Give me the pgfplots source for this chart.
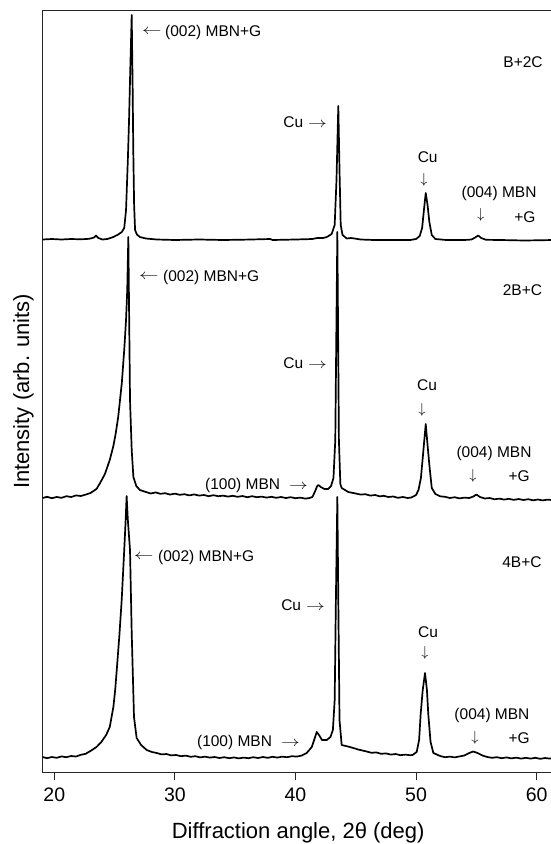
\documentclass[border=0pt]{standalone}
\usepackage{pgfplots}
\pgfplotsset{compat=1.18}
\usepackage{fontspec}
\setmainfont{Liberation Sans}
\newcommand{\la}{\scalebox{1.35}[1]{$\leftarrow$}}
\newcommand{\ra}{\scalebox{1.3}[1]{$\rightarrow$}}

\pgfplotstableread{
x y
19.04 239.5
19.8 239
20.6 239.5
21.4 239
22.2 239.3
22.9 238.8
23.3 237.5
23.46 235.5
23.65 238
24.0 239.5
24.4 239
24.9 237
25.3 234.5
25.6 232
25.8 228
25.95 210
26.1 160
26.2 120
26.3 70
26.42 15
26.5 90
26.55 150
26.62 205
26.7 230
26.85 234.5
27.1 237
27.6 238.5
28.5 239.5
30 240
32 239.5
34 240
36 239.6
37.9 239
38.1 240
40 239.5
41.4 239
41.8 238
42.3 238
42.6 237
43.0 234
43.25 225
43.4 180
43.55 106
43.65 170
43.75 225
43.9 235
44.25 238.5
44.6 238
44.9 238.5
45.4 239.5
46.5 240
48 240
49.5 240
50.0 239
50.3 236
50.5 228
50.65 210
50.8 193
50.95 205
51.1 222
51.3 235
51.6 239
52.5 240
54 240
54.6 239.5
54.9 237.5
55.15 235.5
55.4 238
55.8 239.8
57 240
59 240.5
61.4 240
}\topdata

\pgfplotstableread{
x y
19.04 498
19.4 496.8
19.8 498.2
20.2 497
20.6 497.8
21.0 496.2
21.4 497
21.8 495.4
22.2 496
22.6 494.6
23.0 493
23.5 489
23.8 483
24.2 474
24.6 460
24.9 446
25.1 433
25.3 417
25.45 400
25.6 383
25.8 350
25.95 320
26.05 290
26.14 237
26.22 330
26.28 400
26.42 450
26.56 477
26.8 486
27.1 490
27.6 492
28.0 493.5
28.4 492.4
28.8 493.8
29.2 493.2
29.6 494.6
30.0 493.6
30.4 494.8
30.8 494.2
31.2 495.4
31.6 494.4
32.0 495.6
32.4 495
32.8 496.2
33.2 495.2
33.6 496.2
34.0 495.6
34.4 496.6
34.8 495.8
35.2 496.8
35.6 496
36.0 497.2
36.4 496.2
36.8 497.2
37.2 496.6
37.6 497.6
38.0 496.8
38.4 497.8
38.8 497
39.2 498
39.6 497.2
40.0 498.2
40.4 497.6
40.8 498.6
41.1 498.2
41.4 497
41.6 492
41.8 486
41.9 485
42.1 487
42.4 489
42.7 489
42.95 486
43.15 478
43.3 440
43.47 232
43.6 440
43.72 484
43.83 488
44.38 492
45.0 493.5
45.4 494.6
45.8 494.2
46.2 495.6
46.6 495
47.0 496.4
47.3 495.8
47.7 497
48.1 496.5
48.5 497.8
48.9 497
49.3 498
49.6 497.5
50.0 495
50.2 490
50.4 478
50.55 458
50.8 424
50.95 445
51.1 465
51.3 488
51.6 494
52.0 496.3
52.4 496.8
52.8 498
53.2 497.2
53.6 498.4
54.0 497.6
54.4 498
54.75 496.5
55.0 494.5
55.3 497
55.7 498.5
56.1 498
56.5 499.3
56.9 498.6
57.3 499.6
57.7 498.8
58.1 499.9
58.5 499
58.9 500
59.3 499.2
59.7 500.3
60.1 499.5
60.5 500.4
60.9 499.6
61.4 500.2
}\middata

\pgfplotstableread{
x y
19.04 757
19.4 758.2
19.8 757
20.2 757.8
20.6 756.4
21.0 757.2
21.4 756
21.8 756.5
22.2 754.8
22.6 753.8
23.0 751
23.5 747
23.9 742
24.3 735
24.6 727
24.9 707
25.05 690
25.2 667
25.4 635
25.59 600
25.8 550
25.9 525
26.0 496
26.1 520
26.28 550
26.42 633
26.61 717
26.83 738
27.2 745
27.66 750
28.1 752
28.5 753
28.9 754.4
29.3 754
29.7 755.4
30.1 755
30.5 756.2
30.9 755.6
31.3 756.8
31.7 756.2
32.1 757.4
32.5 756.6
32.9 757.6
33.3 757
33.7 758
34.1 757.2
34.5 758.2
34.9 757.4
35.3 758.4
35.7 757.6
36.1 758.2
36.5 757.2
36.9 758
37.3 757
37.7 757.8
38.1 756.8
38.5 757.6
38.9 756.6
39.3 757.2
39.7 756.2
40.1 756.6
40.5 755.6
40.93 753
41.35 747
41.6 738
41.76 732
41.95 735
42.2 740
42.59 740
42.9 737
43.1 730
43.25 700
43.35 600
43.47 497
43.55 600
43.65 720
43.83 745
44.52 747
45.2 749.5
45.9 751.5
46.3 752.8
46.7 752.4
47.1 753.8
47.5 753.4
47.9 754.6
48.3 754
48.7 755.2
49.1 754.6
49.5 755.2
49.7 755
50.05 752
50.25 740
50.38 714
50.55 690
50.74 673
50.9 690
51.01 714
51.2 742
51.43 753
52.0 756
52.4 757.2
52.8 756.6
53.2 757.4
53.6 756.4
54.0 755.5
54.4 753
54.74 751.5
55.1 753
55.5 755.5
55.9 757
56.3 757.8
56.7 757.2
57.1 758.2
57.5 757.4
57.9 758.4
58.3 757.6
58.7 758.6
59.1 757.8
59.5 758.6
59.9 757.8
60.3 758.8
60.7 758
61.1 758.6
61.4 758.2
}\botdata

\begin{document}
\begin{tikzpicture}[ann/.style={font=\fontsize{15.5}{18}\selectfont, inner sep=0pt}]
\begin{axis}[
  at={(0,0)}, anchor=south west,
  scale only axis, width=511pt, height=762.7pt,
  xmin=19.04, xmax=61.41, ymin=10, ymax=772.7, y dir=reverse,
  xtick={20,30,40,50,60}, xtick pos=bottom, xtick align=outside,
  major tick length=7pt,
  ytick=\empty,
  axis line style={line width=0.8pt, black!85},
  every tick/.style={line width=0.8pt, black!85},
  /pgf/number format/assume math mode=true,
  tick label style={font=\fontsize{19.5}{22}\selectfont},
  xticklabel style={yshift=-5pt},
  xlabel={Diffraction angle, 2θ (deg)},
  ylabel={Intensity (arb. units)},
  label style={font=\fontsize{22}{24}\selectfont},
  xlabel style={at={(axis description cs:0.5,0)}, anchor=base, yshift=-66pt},
  ylabel style={at={(axis description cs:-0.0268,0.5)}, anchor=base},
  clip=false,
]
\addplot[black, line width=1.7pt, line join=round] table[x=x,y=y] {\topdata};
\addplot[black, line width=1.7pt, line join=round] table[x=x,y=y] {\middata};
\addplot[black, line width=1.7pt, line join=round] table[x=x,y=y] {\botdata};

% top: B+2C
\node[ann] at (axis cs:28.10,32) {\la};
\node[ann, anchor=west] at (axis cs:29.18,32) {(002) MBN+G};
\node[ann] at (axis cs:58.87,62) {B+2C};
\node[ann, anchor=east] at (axis cs:42.62,122) {Cu\hspace{5pt}\ra};
\node[ann] at (axis cs:50.96,157) {Cu};
\node[ann] at (axis cs:50.66,180) {$\downarrow$};
\node[ann] at (axis cs:56.88,193) {(004) MBN};
\node[ann] at (axis cs:55.35,215) {$\downarrow$};
\node[ann] at (axis cs:59.03,217) {+G};

% middle: 2B+C
\node[ann] at (axis cs:27.85,277) {\la};
\node[ann, anchor=west] at (axis cs:29.01,277) {(002) MBN+G};
\node[ann] at (axis cs:58.82,290) {2B+C};
\node[ann, anchor=east] at (axis cs:42.62,363) {Cu\hspace{5pt}\ra};
\node[ann] at (axis cs:50.91,385) {Cu};
\node[ann] at (axis cs:50.49,410) {$\downarrow$};
\node[ann] at (axis cs:56.46,453) {(004) MBN};
\node[ann] at (axis cs:54.72,476) {$\downarrow$};
\node[ann] at (axis cs:58.54,476) {+G};
\node[ann, anchor=east] at (axis cs:41.04,485) {(100) MBN\hspace{9pt}\ra};

% bottom: 4B+C
\node[ann] at (axis cs:27.43,557) {\la};
\node[ann, anchor=west] at (axis cs:28.6,557) {(002) MBN+G};
\node[ann] at (axis cs:58.78,562) {4B+C};
\node[ann, anchor=east] at (axis cs:42.45,605) {Cu\hspace{5pt}\ra};
\node[ann] at (axis cs:51.0,632) {Cu};
\node[ann] at (axis cs:50.74,653) {$\downarrow$};
\node[ann] at (axis cs:56.29,715) {(004) MBN};
\node[ann] at (axis cs:54.88,738) {$\downarrow$};
\node[ann] at (axis cs:58.54,738) {+G};
\node[ann, anchor=east] at (axis cs:40.37,742) {(100) MBN\hspace{9pt}\ra};
\end{axis}
\pgfresetboundingbox
\useasboundingbox (-42.7pt,-71.3pt) rectangle (508.3pt,772.7pt);
\end{tikzpicture}
\end{document}
